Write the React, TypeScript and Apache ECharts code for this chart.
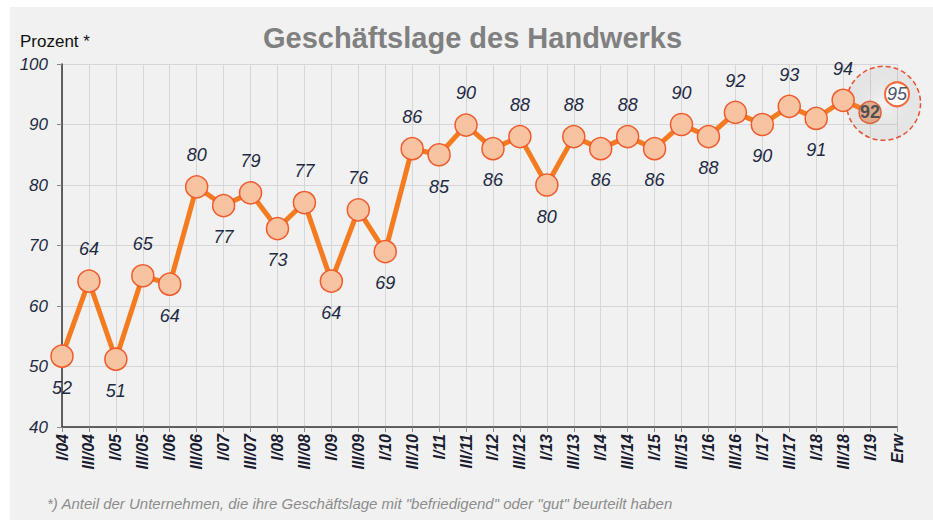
import React, { useEffect, useRef } from "react";
import * as echarts from "echarts";

const categories = [
  "I/04", "III/04", "I/05", "III/05", "I/06", "III/06", "I/07", "III/07",
  "I/08", "III/08", "I/09", "III/09", "I/10", "III/10", "I/11", "III/11",
  "I/12", "III/12", "I/13", "III/13", "I/14", "III/14", "I/15", "III/15",
  "I/16", "III/16", "I/17", "III/17", "I/18", "III/18", "I/19", "Erw",
];

// Geschäftslage (Prozent) I/04 .. I/19
const values = [
  51.7, 64.1, 51.2, 65.0, 63.6, 79.7, 76.6, 78.7, 72.8, 77.1, 64.1, 75.9,
  69.0, 86.0, 85.0, 89.9, 86.0, 88.0, 80.0, 88.0, 86.0, 88.0, 86.0, 90.0,
  88.0, 92.0, 90.0, 93.0, 91.0, 94.0, 92.0,
];

// Erwartung
const forecastValue = 95;

const yTicks = [40, 50, 60, 70, 80, 90, 100];

const FONT = "'Liberation Sans', Arial, Helvetica, sans-serif";

export default function App() {
  const ref = useRef<HTMLDivElement>(null);

  useEffect(() => {
    if (!ref.current) return;
    const chart = echarts.init(ref.current, undefined, { renderer: "svg" });
    const last = values.length - 1;

    const lineData = values.map((v, i) => {
      if (i === last) {
        return {
          value: v,
          itemStyle: { color: "#e0a98b", borderColor: "#d9623a", borderWidth: 1.5 },
          label: {
            show: true,
            position: "inside",
            color: "#505050",
            fontStyle: "normal",
            fontWeight: "bold",
            fontSize: 18,
            formatter: () => String(Math.round(v)),
          },
        };
      }
      const above = i % 2 === 1;
      return {
        value: v,
        label: {
          show: true,
          position: above ? "top" : "bottom",
          distance: 11,
          formatter: () => String(Math.round(v)),
        },
      };
    });

    const forecastData = categories.map((_, i) =>
      i === categories.length - 1 ? forecastValue : "-"
    );

    chart.setOption({
      animation: false,
      backgroundColor: "#ffffff",
      textStyle: { fontFamily: FONT },
      title: {
        text: "Geschäftslage des Handwerks",
        left: 258,
        top: 18,
        textStyle: { fontFamily: FONT, fontSize: 29, fontWeight: "bold", color: "#808080" },
      },
      grid: { left: 62, right: 36, top: 64, bottom: 93, containLabel: false },
      xAxis: {
        type: "category",
        data: categories,
        boundaryGap: false,
        axisLine: { show: true, lineStyle: { color: "#333333", width: 1.5 } },
        axisTick: { show: true, length: 5, lineStyle: { color: "#888888" } },
        axisLabel: {
          rotate: 90,
          interval: 0,
          margin: 7,
          fontFamily: FONT,
          fontSize: 16,
          fontWeight: "bold",
          fontStyle: "italic",
          color: "#1c1c30",
        },
        splitLine: { show: true, lineStyle: { color: "#d6d6d6", width: 1 } },
      },
      yAxis: {
        type: "value",
        min: yTicks[0],
        max: yTicks[yTicks.length - 1],
        interval: 10,
        axisLine: { show: true, lineStyle: { color: "#333333", width: 1.5 } },
        axisTick: { show: true, length: 5, lineStyle: { color: "#888888" } },
        axisLabel: {
          margin: 14,
          fontFamily: FONT,
          fontSize: 17,
          fontStyle: "italic",
          color: "#1f2a44",
        },
        splitLine: { show: true, lineStyle: { color: "#d6d6d6", width: 1 } },
      },
      series: [
        {
          type: "line",
          data: lineData,
          z: 3,
          symbol: "circle",
          symbolSize: 22,
          lineStyle: { color: "#f47b20", width: 5 },
          itemStyle: { color: "#f8c3a0", borderColor: "#f15a2b", borderWidth: 1.5 },
          label: {
            fontFamily: FONT,
            fontSize: 18,
            fontStyle: "italic",
            color: "#1f2a44",
          },
        },
        {
          type: "line",
          data: forecastData,
          z: 4,
          symbol: "circle",
          symbolSize: 24,
          showAllSymbol: true,
          lineStyle: { width: 0 },
          itemStyle: { color: "#ffffff", borderColor: "#f26a3a", borderWidth: 2 },
          label: {
            show: true,
            position: "inside",
            fontFamily: FONT,
            fontSize: 18,
            fontStyle: "italic",
            color: "#4a5570",
          },
        },
      ],
      graphic: [
        {
          id: "panel",
          type: "rect",
          z: -10,
          silent: true,
          shape: { x: 10, y: 7, width: 923, height: 513 },
          style: { fill: "#f1f1f1" },
        },
        {
          id: "unit",
          type: "text",
          left: 20,
          top: 33,
          style: { text: "Prozent *", fontFamily: FONT, fontSize: 17, fill: "#111111" },
        },
        {
          id: "note",
          type: "text",
          left: 47,
          top: 496,
          style: {
            text: '*) Anteil der Unternehmen, die ihre Geschäftslage mit "befriedigend" oder "gut" beurteilt haben',
            fontFamily: FONT,
            fontSize: 15,
            fontStyle: "italic",
            fill: "#8c8c8c",
          },
        },
      ],
    });

    const p1 = chart.convertToPixel({ seriesIndex: 0 }, [last, values[last]]) as number[];
    const p2 = chart.convertToPixel({ seriesIndex: 1 }, [categories.length - 1, forecastValue]) as number[];
    if (p1 && p2) {
      const cx = (p1[0] + p2[0]) / 2;
      const cy = (p1[1] + p2[1]) / 2;
      chart.setOption({
        graphic: [
          {
            id: "ring",
            type: "circle",
            z: 1,
            silent: true,
            shape: { cx, cy, r: 37 },
            style: {
              fill: new echarts.graphic.RadialGradient(0.5, 0.5, 0.5, [
                { offset: 0, color: "rgba(255,255,255,0.12)" },
                { offset: 1, color: "rgba(0,0,0,0.05)" },
              ]),
              stroke: "#e8502f",
              lineWidth: 1.5,
              lineDash: [5, 3],
            },
          },
        ],
      });
    }

    return () => chart.dispose();
  }, []);

  return (
    <div
      ref={ref}
      style={{ position: "absolute", left: 0, top: 0, width: 933, height: 520 }}
    />
  );
}
